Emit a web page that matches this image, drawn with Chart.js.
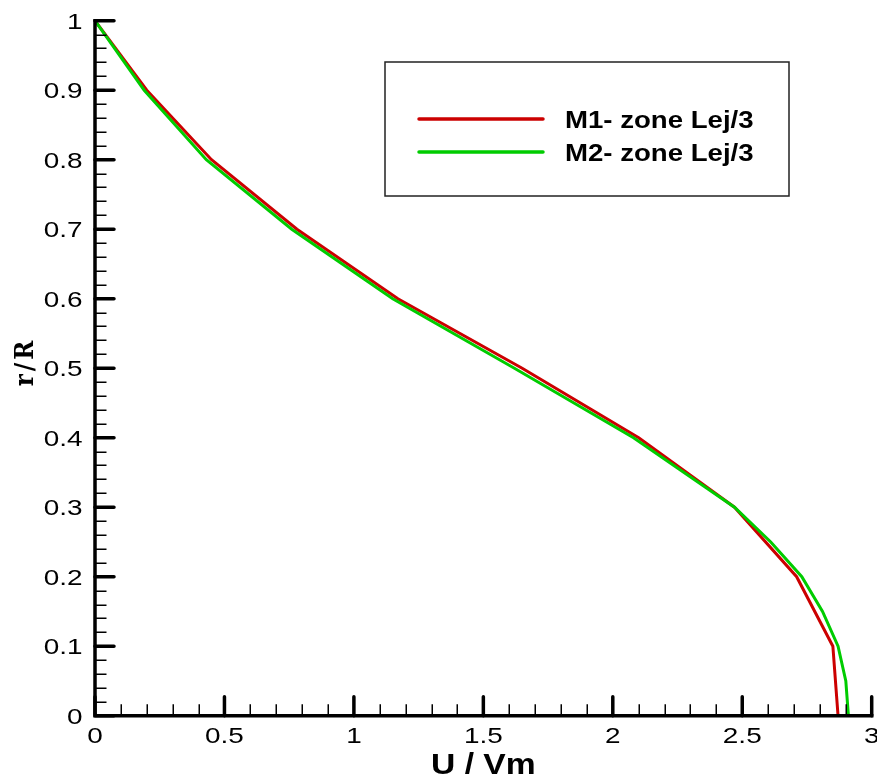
<!DOCTYPE html>
<html>
<head>
<meta charset="utf-8">
<script src="https://cdn.jsdelivr.net/npm/chart.js@4/dist/chart.umd.min.js"></script>
<style>
  html, body { margin: 0; padding: 0; background: #ffffff; }
  #wrap { width: 877px; height: 776px; }
</style>
</head>
<body>
<div id="wrap"><canvas id="c" width="877" height="776"></canvas></div>
<script>
// Radial velocity profiles: r/R against U/Vm for the two meshes
const seriesNames = ['M1- zone Lej/3', 'M2- zone Lej/3'];

const m1U = [0, 0.2, 0.45, 0.78, 1.17, 1.65, 2.1, 2.47, 2.71, 2.85, 2.87];
const m1R = [1, 0.9, 0.8, 0.7, 0.6, 0.5, 0.4, 0.3, 0.2, 0.1, 0];

const m2U = [0, 0.19, 0.43, 0.76, 1.15, 1.62, 2.08, 2.47, 2.61, 2.73, 2.81, 2.87, 2.9, 2.91];
const m2R = [1, 0.9, 0.8, 0.7, 0.6, 0.5, 0.4, 0.3, 0.25, 0.2, 0.15, 0.1, 0.05, 0];

const xTickValues = [0, 0.5, 1, 1.5, 2, 2.5, 3];
const xTickLabels = ['0', '0.5', '1', '1.5', '2', '2.5', '3'];
const yTickValues = [0, 0.1, 0.2, 0.3, 0.4, 0.5, 0.6, 0.7, 0.8, 0.9, 1];
const yTickLabels = ['0', '0.1', '0.2', '0.3', '0.4', '0.5', '0.6', '0.7', '0.8', '0.9', '1'];
const xMinorStep = 0.1;
const yMinorStep = 0.02;

const xTitle = 'U / Vm';
const yTitle = 'r/R';

const toPoints = (xs, ys) => xs.map((x, i) => ({ x: x, y: ys[i] }));

// Text drawn slightly widened, like the rest of the figure's lettering
function stretchedText(ctx, text, x, y, font, align, baseline, sx) {
  ctx.save();
  ctx.font = font;
  ctx.textAlign = align;
  ctx.textBaseline = baseline;
  ctx.fillStyle = '#000';
  ctx.translate(x, y);
  ctx.scale(sx, 1);
  ctx.fillText(text, 0, 0);
  ctx.restore();
}

// Axes with inward major/minor ticks, tick labels, titles and the boxed legend
const framePlugin = {
  id: 'frame',
  afterDraw(chart) {
    const ctx = chart.ctx;
    const xs = chart.scales.x, ys = chart.scales.y;
    const x0 = xs.getPixelForValue(0), x1 = xs.getPixelForValue(3);
    const y0 = ys.getPixelForValue(0), y1 = ys.getPixelForValue(1);

    ctx.save();
    ctx.strokeStyle = '#000';

    // minor ticks
    ctx.lineWidth = 1.5;
    ctx.lineCap = 'butt';
    ctx.beginPath();
    for (let v = xMinorStep; v < 3 - 1e-9; v += xMinorStep) {
      const px = Math.round(xs.getPixelForValue(v)) + 0.25;
      ctx.moveTo(px, y0);
      ctx.lineTo(px, y0 - 11.5);
    }
    for (let v = yMinorStep; v < 1 - 1e-9; v += yMinorStep) {
      const py = Math.round(ys.getPixelForValue(v)) + 0.25;
      ctx.moveTo(x0, py);
      ctx.lineTo(x0 + 11.5, py);
    }
    ctx.stroke();

    // major ticks
    ctx.lineWidth = 3.5;
    ctx.lineCap = 'round';
    ctx.beginPath();
    xTickValues.forEach(v => {
      const px = xs.getPixelForValue(v);
      ctx.moveTo(px, y0);
      ctx.lineTo(px, y0 - 19);
    });
    yTickValues.forEach(v => {
      const py = ys.getPixelForValue(v);
      ctx.moveTo(x0, py);
      ctx.lineTo(x0 + 19, py);
    });
    ctx.stroke();

    // axis lines
    ctx.lineWidth = 3.5;
    ctx.lineCap = 'square';
    ctx.beginPath();
    ctx.moveTo(x0, y1);
    ctx.lineTo(x0, y0);
    ctx.lineTo(x1, y0);
    ctx.stroke();
    ctx.restore();

    // tick labels
    const tickFont = '22px "Liberation Sans", Arial, sans-serif';
    xTickValues.forEach((v, i) => {
      stretchedText(ctx, xTickLabels[i], xs.getPixelForValue(v), y0 + 27.5, tickFont, 'center', 'alphabetic', 1.27);
    });
    yTickValues.forEach((v, i) => {
      stretchedText(ctx, yTickLabels[i], x0 - 12.5, ys.getPixelForValue(v) + 8, tickFont, 'right', 'alphabetic', 1.27);
    });

    // axis titles
    stretchedText(ctx, xTitle, (x0 + x1) / 2, 774, 'bold 29px "Liberation Sans", Arial, sans-serif', 'center', 'alphabetic', 1.16);
    ctx.save();
    ctx.translate(26, 362);
    ctx.rotate(-Math.PI / 2);
    ctx.scale(1, 1.1);
    ctx.font = 'bold 23px "DejaVu Serif", "Liberation Serif", serif';
    ctx.letterSpacing = '3px';
    ctx.textAlign = 'center';
    ctx.textBaseline = 'middle';
    ctx.fillStyle = '#000';
    ctx.fillText(yTitle, 0, 0);
    ctx.restore();

    // legend box
    ctx.save();
    ctx.strokeStyle = '#222';
    ctx.lineWidth = 1.5;
    ctx.strokeRect(385, 62, 404, 134);
    const rows = [119, 152];
    chart.data.datasets.forEach((ds, i) => {
      ctx.strokeStyle = ds.borderColor;
      ctx.lineWidth = 3.5;
      ctx.lineCap = 'round';
      ctx.beginPath();
      ctx.moveTo(419, rows[i]);
      ctx.lineTo(543, rows[i]);
      ctx.stroke();
      stretchedText(ctx, ds.label, 565, rows[i] + 8.5, 'bold 23px "Liberation Sans", Arial, sans-serif', 'left', 'alphabetic', 1.2);
    });
    ctx.restore();
  }
};

new Chart(document.getElementById('c'), {
  type: 'line',
  data: {
    datasets: [
      {
        label: seriesNames[0],
        data: toPoints(m1U, m1R),
        borderColor: '#cc0000',
        borderWidth: 3,
        pointRadius: 0,
        tension: 0,
        order: 2
      },
      {
        label: seriesNames[1],
        data: toPoints(m2U, m2R),
        borderColor: '#00cc00',
        borderWidth: 3,
        pointRadius: 0,
        tension: 0,
        order: 1
      }
    ]
  },
  options: {
    responsive: false,
    animation: false,
    devicePixelRatio: 1,
    layout: { padding: { left: 95, right: 5.3, top: 20.7, bottom: 60.3 } },
    plugins: {
      legend: { display: false },
      tooltip: { enabled: false },
      title: { display: false }
    },
    scales: {
      x: {
        type: 'linear',
        min: 0,
        max: 3,
        grid: { display: false },
        border: { display: false },
        ticks: { display: false },
        afterFit: s => { s.height = 0; }
      },
      y: {
        type: 'linear',
        min: 0,
        max: 1,
        grid: { display: false },
        border: { display: false },
        ticks: { display: false },
        afterFit: s => { s.width = 0; }
      }
    }
  },
  plugins: [framePlugin]
});
</script>
</body>
</html>
